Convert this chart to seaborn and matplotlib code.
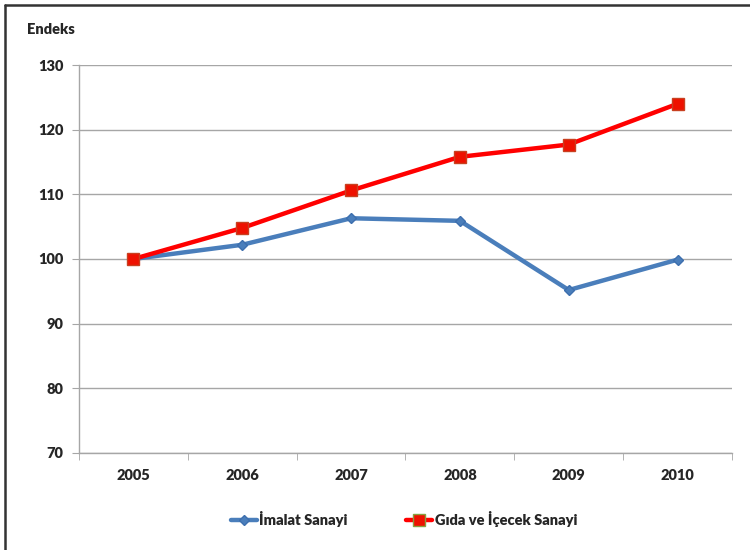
import pandas as pd
import numpy as np
import matplotlib
matplotlib.use('Agg')
import matplotlib.pyplot as plt
import seaborn as sns
from matplotlib.lines import Line2D

years = ['2005', '2006', '2007', '2008', '2009', '2010']
imalat = [100.0, 102.2, 106.3, 105.9, 95.2, 99.9]
gida = [100.0, 104.8, 110.6, 115.8, 117.7, 124.0]
series_names = ['İmalat Sanayi', 'Gıda ve İçecek Sanayi']
y_ticks = [70, 80, 90, 100, 110, 120, 130]

COLOURS = {
    'İmalat Sanayi': '#4a7ebb',
    'Gıda ve İçecek Sanayi': '#ff0000',
}

df = pd.DataFrame({
    'year': years * 2,
    'value': imalat + gida,
    'series': [series_names[0]] * len(years) + [series_names[1]] * len(years),
})

sns.set_style('white')
plt.rcParams['font.family'] = ['Lato', 'DejaVu Sans']
WEIGHT = 'heavy'
FS = 10.5

fig = plt.figure(figsize=(7.5, 5.5), dpi=100)
ax = fig.add_axes([0.1053, 0.1764, 0.8707, 0.7054])

sns.lineplot(
    data=df, x='year', y='value', hue='series', style='series',
    markers={'İmalat Sanayi': 'D', 'Gıda ve İçecek Sanayi': 's'},
    dashes=False, palette=COLOURS, linewidth=3.2, sort=False,
    markersize=7, ax=ax, legend=False,
)
# marker styling like the Excel original
for line, name in zip(ax.get_lines(), series_names):
    if name == 'İmalat Sanayi':
        line.set_markersize(5.5)
        line.set_markerfacecolor('#4a7ebb')
        line.set_markeredgecolor('#3d6fae')
    else:
        line.set_markersize(9)
        line.set_markerfacecolor('#ee1100')
        line.set_markeredgecolor('#c84020')
    line.set_markeredgewidth(1)

ax.set_ylim(70, 130)
ax.set_yticks(y_ticks)
ax.set_xlim(-0.5, len(years) - 0.5)
ax.set_xticks(np.arange(len(years)))
ax.set_xticklabels(years)
ax.set_xticks(np.arange(-0.5, len(years)), minor=True)
ax.grid(axis='y', color='#a6a6a6', linewidth=1)
ax.set_axisbelow(True)
for side in ['top', 'right']:
    ax.spines[side].set_visible(False)
for side in ['left', 'bottom']:
    ax.spines[side].set_color('#a6a6a6')
    ax.spines[side].set_linewidth(1)
ax.tick_params(axis='y', which='major', left=True, length=5, color='#a6a6a6',
               labelsize=FS, pad=6)
ax.tick_params(axis='x', which='major', bottom=False, labelsize=FS, pad=8)
ax.tick_params(axis='x', which='minor', bottom=True, length=5, color='#a6a6a6')
for lbl in ax.get_xticklabels() + ax.get_yticklabels():
    lbl.set_fontweight(WEIGHT)
ax.set_xlabel('')
ax.set_ylabel('')

fig.text(27 / 750, 1 - 30 / 550, 'Endeks', fontsize=FS, fontweight=WEIGHT,
         va='center', ha='left')

handles = [
    Line2D([], [], color='#4a7ebb', lw=3.2, marker='D', markersize=5.5,
           markerfacecolor='#4a7ebb', markeredgecolor='#3d6fae'),
    Line2D([], [], color='#ff0000', lw=3.2, marker='s', markersize=9,
           markerfacecolor='#ee1100', markeredgecolor='#88a040'),
]
leg = fig.legend(handles, series_names, loc='center', ncol=2,
                 bbox_to_anchor=(404 / 750, 1 - 519 / 550), frameon=False,
                 handlelength=1.8, handletextpad=0.15, columnspacing=4.0,
                 prop={'size': FS, 'weight': WEIGHT})

# border on left and top like the cropped original
fig.add_artist(Line2D([4.5 / 750, 4.5 / 750], [0, 1 - 5 / 550], color='#333333', lw=1.8))
fig.add_artist(Line2D([4.5 / 750, 1], [1 - 5 / 550, 1 - 5 / 550], color='#333333', lw=1.8))

plt.savefig('out.png', dpi=100)
